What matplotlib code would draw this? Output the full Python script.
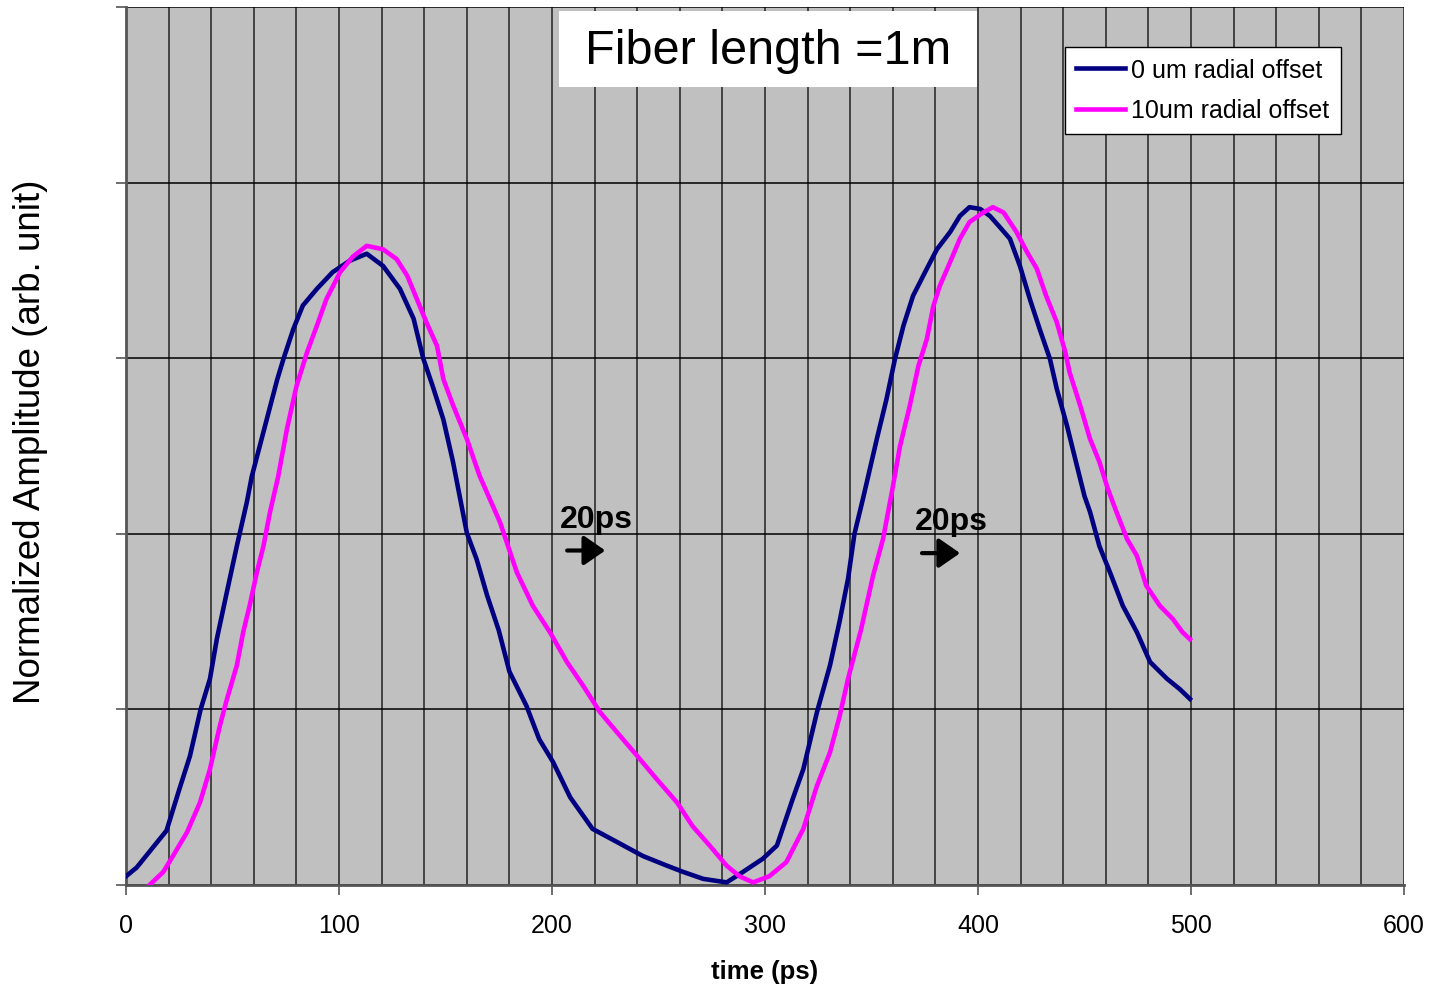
import numpy as np
import matplotlib.pyplot as plt
from matplotlib.patches import Rectangle

plt.rcParams['font.family'] = ['Liberation Sans', 'DejaVu Sans']

# pulse traces, time in ps and normalized amplitude
t_0um = [0, 5, 11, 19, 25, 30, 35, 39.4, 42.6, 47, 52, 56.7, 59, 64.5, 71, 74,
         78.5, 83, 89.6, 97, 105, 113, 120.7, 128.6, 135, 139.5, 144, 149,
         153.5, 160, 164.6, 169.5, 175, 180, 188, 194, 200.5, 208.5, 219,
         230.5, 242.7, 254, 261.5, 271, 282, 289.7, 299, 305.6, 313, 318,
         324.4, 330.5, 335, 339, 342, 346, 352.5, 357, 361, 365, 369.5, 376,
         380.7, 387, 391.5, 396, 401, 405.6, 410, 415, 419.7, 424.4, 429,
         433.8, 437, 441.8, 446.5, 450, 452.6, 457, 462, 468, 474.6, 480.8,
         488.7, 494.8, 499.5]
amp_0um = [0.010, 0.020, 0.038, 0.062, 0.109, 0.147, 0.200, 0.235, 0.280,
           0.330, 0.386, 0.436, 0.465, 0.516, 0.576, 0.600, 0.633, 0.660,
           0.679, 0.698, 0.711, 0.719, 0.705, 0.679, 0.645, 0.600, 0.568,
           0.530, 0.482, 0.401, 0.371, 0.330, 0.290, 0.243, 0.204, 0.166,
           0.140, 0.100, 0.064, 0.049, 0.033, 0.022, 0.015, 0.007, 0.003,
           0.015, 0.030, 0.045, 0.098, 0.132, 0.197, 0.250, 0.300, 0.349,
           0.400, 0.440, 0.508, 0.553, 0.599, 0.637, 0.671, 0.702, 0.724,
           0.744, 0.762, 0.772, 0.770, 0.762, 0.750, 0.736, 0.705, 0.667,
           0.633, 0.599, 0.565, 0.523, 0.477, 0.443, 0.425, 0.386, 0.356,
           0.318, 0.288, 0.254, 0.235, 0.223, 0.212]

t_10um = [11, 17.5, 22, 28.6, 34.7, 39.4, 44, 47.4, 52, 55, 58, 61.4, 64.5,
          67.6, 71.4, 75.5, 80, 85, 89.6, 94, 100.5, 106.6, 113, 120.7, 127,
          132, 136.6, 141, 146, 149, 153.6, 160, 166, 175.6, 183.5, 191, 199,
          207, 214.6, 222.5, 230.5, 240, 249, 258.7, 266, 274, 282, 288,
          294.4, 302, 310, 318, 324.4, 330.5, 335, 339, 345, 350.7, 355.4,
          359.6, 363.4, 368, 372, 376, 379, 382, 387, 391.5, 396, 402.5, 407,
          412, 418, 423, 427.6, 432, 437, 441, 443, 448, 452.6, 457, 461, 465,
          470, 474.6, 479, 485.4, 491.5, 496, 499.5]
amp_10um = [0.000, 0.015, 0.033, 0.060, 0.094, 0.132, 0.181, 0.212, 0.250,
            0.288, 0.318, 0.356, 0.386, 0.425, 0.465, 0.519, 0.568, 0.607,
            0.637, 0.667, 0.698, 0.716, 0.728, 0.724, 0.713, 0.694, 0.667,
            0.641, 0.614, 0.576, 0.546, 0.508, 0.466, 0.413, 0.356, 0.318,
            0.288, 0.254, 0.227, 0.197, 0.174, 0.147, 0.121, 0.094, 0.067,
            0.045, 0.022, 0.010, 0.003, 0.010, 0.026, 0.064, 0.113, 0.151,
            0.192, 0.235, 0.290, 0.352, 0.394, 0.448, 0.500, 0.546, 0.591,
            0.622, 0.659, 0.682, 0.710, 0.736, 0.755, 0.766, 0.772, 0.766,
            0.744, 0.721, 0.702, 0.671, 0.641, 0.607, 0.584, 0.546, 0.508,
            0.482, 0.451, 0.425, 0.394, 0.375, 0.341, 0.318, 0.303, 0.288,
            0.280]

fig = plt.figure(figsize=(14.31, 9.87), dpi=100)
ax = fig.add_axes([0.0881, 0.1023, 0.8930, 0.8896])
ax.set_facecolor('#c0c0c0')

ax.plot(t_0um, amp_0um, color='#000080', lw=3.3, label='0 um radial offset', zorder=3)
ax.plot(t_10um, amp_10um, color='#ff00ff', lw=3.3, label='10um radial offset', zorder=3)

ax.set_xlim(0, 600)
ax.set_ylim(0, 1.0)
ax.set_xticks(np.arange(0, 601, 100))
ax.set_xticks(np.arange(0, 601, 20), minor=True)
ax.set_yticks(np.arange(0, 1.01, 0.2))
ax.set_yticklabels([])
ax.grid(True, which='both', axis='x', color='#222222', lw=1.1)
ax.grid(True, which='major', axis='y', color='black', lw=1.1)
ax.set_axisbelow(True)
ax.tick_params(axis='x', which='major', direction='out', length=7, width=1.2,
               color='#555555', labelsize=18, pad=13)
ax.tick_params(axis='x', which='minor', length=0)
ax.tick_params(axis='y', direction='out', length=7, width=1.2, color='#555555')
for side in ['top', 'right']:
    ax.spines[side].set_visible(False)
for side in ['left', 'bottom']:
    ax.spines[side].set_color('#555555')
    ax.spines[side].set_linewidth(2)

ax.set_xlabel('time (ps)', fontsize=18.5, fontweight='bold', labelpad=16)
ax.set_ylabel('Normalized Amplitude (arb. unit)', fontsize=26.5)
ax.yaxis.set_label_coords(-0.061, 0.506)

# title box
ax.add_patch(Rectangle((0.3388, 0.9089), 0.3271, 0.0865, transform=ax.transAxes,
                       facecolor='white', edgecolor='none', zorder=5))
ax.text(301.4, 0.95, 'Fiber length =1m', fontsize=35, ha='center', va='center',
        zorder=6)

leg = ax.legend(loc='upper right', bbox_to_anchor=(0.9506, 0.9545), fontsize=18,
                frameon=True, fancybox=False, framealpha=1, edgecolor='black',
                handlelength=1.95, handletextpad=0.27, borderpad=0.45,
                labelspacing=0.65, borderaxespad=0)
leg.get_frame().set_linewidth(1)

# 20 ps shift markers
for x0, y0 in [(203.8, 0.408), (370.4, 0.405)]:
    ax.text(x0, y0, '20ps', fontsize=23, fontweight='bold', ha='left', va='baseline')
    ax.annotate('', xy=(x0 + 22.5, y0 - 0.027), xytext=(x0 + 2, y0 - 0.027),
                arrowprops=dict(arrowstyle='-|>,head_length=1.3,head_width=0.9',
                                color='black', lw=3))

fig.savefig('out.png', dpi=100)
